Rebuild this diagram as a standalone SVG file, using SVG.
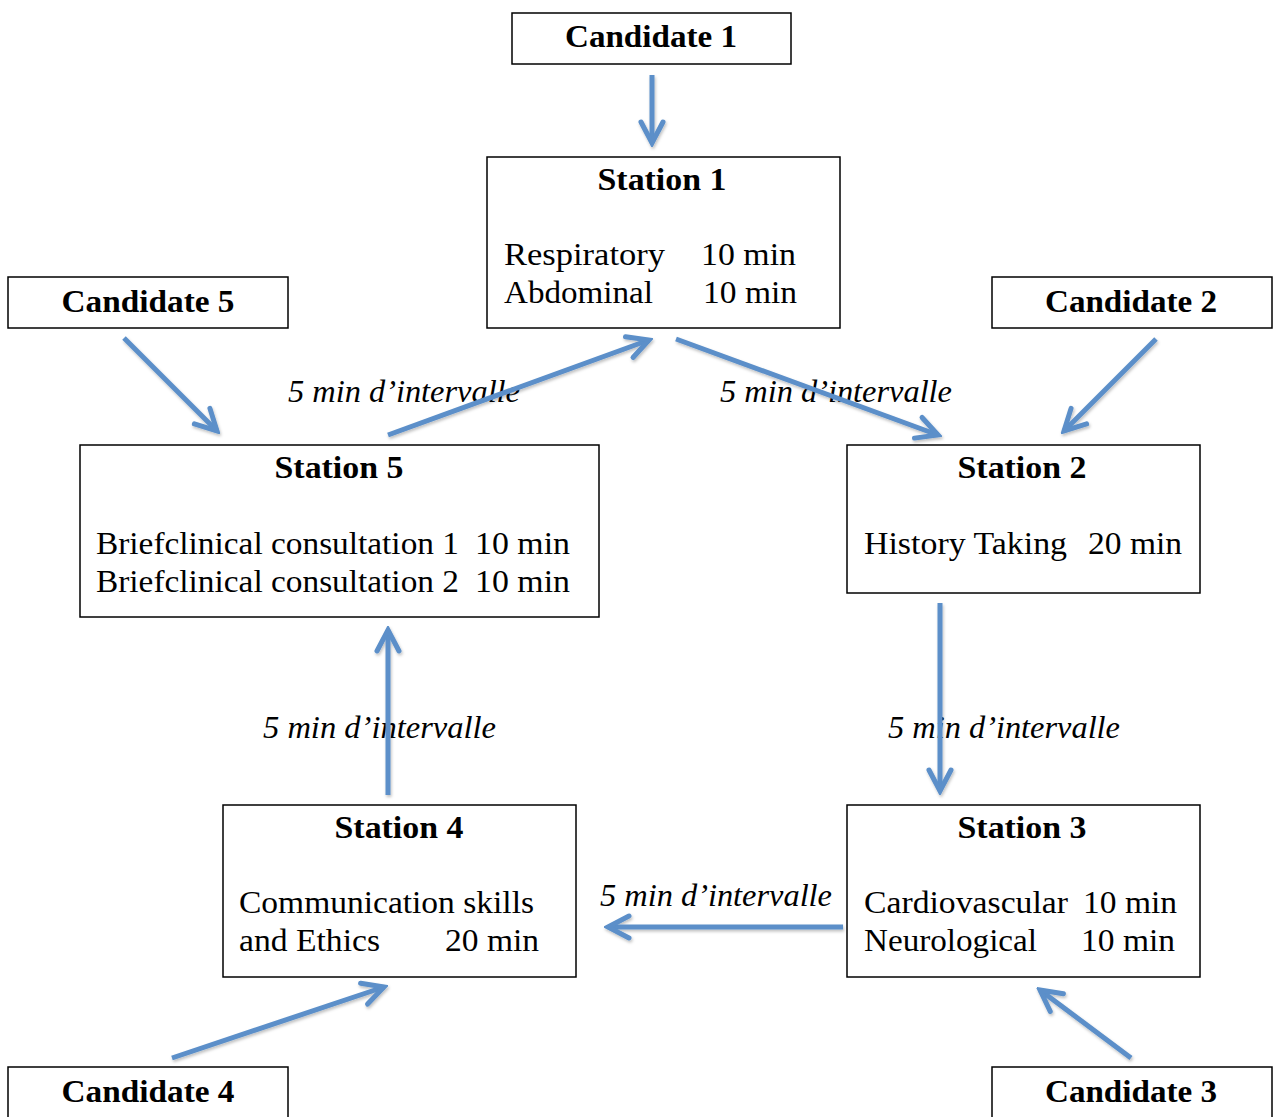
<svg xmlns="http://www.w3.org/2000/svg" width="1273" height="1117" viewBox="0 0 1273 1117">
<style>
.box{fill:#fff;stroke:#000;stroke-width:1.5}
.t{font-family:"Liberation Serif","DejaVu Serif",serif;font-size:31px;fill:#000}
.b{font-weight:bold}
.i{font-style:italic}
.c line{stroke:#5B8FC9;stroke-width:5;fill:none;marker-end:url(#ah)}
</style>
<defs>
<filter id="sh" x="-20%" y="-20%" width="140%" height="140%">
<feDropShadow dx="1" dy="2" stdDeviation="1.5" flood-color="#000" flood-opacity="0.25"/>
</filter>
<marker id="ah" markerUnits="userSpaceOnUse" viewBox="-30 -16 34 32" refX="0" refY="0" markerWidth="34" markerHeight="32" orient="auto">
<path d="M-21,-11 L0,0 L-21,11" fill="none" stroke="#5B8FC9" stroke-width="5" stroke-linejoin="miter" stroke-linecap="round"/>
</marker>
</defs>

<g id="candidate1"><rect class="box" x="512" y="13" width="279" height="51"/><text class="t b" x="651" y="47" text-anchor="middle" textLength="172" lengthAdjust="spacingAndGlyphs">Candidate 1</text></g>
<g id="candidate5"><rect class="box" x="8" y="277" width="280" height="51"/><text class="t b" x="148" y="312" text-anchor="middle" textLength="173" lengthAdjust="spacingAndGlyphs">Candidate 5</text></g>
<g id="candidate2"><rect class="box" x="992" y="277" width="280" height="51"/><text class="t b" x="1131" y="312" text-anchor="middle" textLength="172" lengthAdjust="spacingAndGlyphs">Candidate 2</text></g>
<g id="candidate4"><rect class="box" x="8" y="1067" width="280" height="60"/><text class="t b" x="148" y="1102" text-anchor="middle" textLength="173" lengthAdjust="spacingAndGlyphs">Candidate 4</text></g>
<g id="candidate3"><rect class="box" x="992" y="1067" width="280" height="60"/><text class="t b" x="1131" y="1102" text-anchor="middle" textLength="172" lengthAdjust="spacingAndGlyphs">Candidate 3</text></g>

<g id="station1"><rect class="box" x="487" y="157" width="353" height="171"/>
<text class="t b" x="662" y="190" text-anchor="middle" textLength="129" lengthAdjust="spacingAndGlyphs">Station 1</text>
<text class="t" x="504" y="265" textLength="161" lengthAdjust="spacingAndGlyphs">Respiratory</text>
<text class="t" x="701" y="265" textLength="95" lengthAdjust="spacingAndGlyphs">10 min</text>
<text class="t" x="504" y="303" textLength="149" lengthAdjust="spacingAndGlyphs">Abdominal</text>
<text class="t" x="703" y="303" textLength="94" lengthAdjust="spacingAndGlyphs">10 min</text>
</g>

<g id="station5"><rect class="box" x="80" y="445" width="519" height="172"/>
<text class="t b" x="339" y="478" text-anchor="middle" textLength="129" lengthAdjust="spacingAndGlyphs">Station 5</text>
<text class="t" x="96" y="554" textLength="363" lengthAdjust="spacingAndGlyphs">Briefclinical consultation 1</text>
<text class="t" x="475" y="554" textLength="95" lengthAdjust="spacingAndGlyphs">10 min</text>
<text class="t" x="96" y="592" textLength="363" lengthAdjust="spacingAndGlyphs">Briefclinical consultation 2</text>
<text class="t" x="475" y="592" textLength="95" lengthAdjust="spacingAndGlyphs">10 min</text>
</g>

<g id="station2"><rect class="box" x="847" y="445" width="353" height="148"/>
<text class="t b" x="1022" y="478" text-anchor="middle" textLength="129" lengthAdjust="spacingAndGlyphs">Station 2</text>
<text class="t" x="864" y="554" textLength="203" lengthAdjust="spacingAndGlyphs">History Taking</text>
<text class="t" x="1088" y="554" textLength="94" lengthAdjust="spacingAndGlyphs">20 min</text>
</g>

<g id="station4"><rect class="box" x="223" y="805" width="353" height="172"/>
<text class="t b" x="399" y="838" text-anchor="middle" textLength="129" lengthAdjust="spacingAndGlyphs">Station 4</text>
<text class="t" x="239" y="913" textLength="295" lengthAdjust="spacingAndGlyphs">Communication skills</text>
<text class="t" x="239" y="951" textLength="141" lengthAdjust="spacingAndGlyphs">and Ethics</text>
<text class="t" x="445" y="951" textLength="94" lengthAdjust="spacingAndGlyphs">20 min</text>
</g>

<g id="station3"><rect class="box" x="847" y="805" width="353" height="172"/>
<text class="t b" x="1022" y="838" text-anchor="middle" textLength="129" lengthAdjust="spacingAndGlyphs">Station 3</text>
<text class="t" x="864" y="913" textLength="204" lengthAdjust="spacingAndGlyphs">Cardiovascular</text>
<text class="t" x="1083" y="913" textLength="94" lengthAdjust="spacingAndGlyphs">10 min</text>
<text class="t" x="864" y="951" textLength="173" lengthAdjust="spacingAndGlyphs">Neurological</text>
<text class="t" x="1081" y="951" textLength="94" lengthAdjust="spacingAndGlyphs">10 min</text>
</g>

<g id="labels">
<text class="t i" x="288" y="402" textLength="232" lengthAdjust="spacingAndGlyphs">5 min d’intervalle</text>
<text class="t i" x="720" y="402" textLength="232" lengthAdjust="spacingAndGlyphs">5 min d’intervalle</text>
<text class="t i" x="263" y="738" textLength="233" lengthAdjust="spacingAndGlyphs">5 min d’intervalle</text>
<text class="t i" x="888" y="738" textLength="232" lengthAdjust="spacingAndGlyphs">5 min d’intervalle</text>
<text class="t i" x="600" y="906" textLength="232" lengthAdjust="spacingAndGlyphs">5 min d’intervalle</text>
</g>

<g id="connectors" class="c" filter="url(#sh)">
<line x1="652" y1="75" x2="652" y2="143"/>
<line x1="388" y1="435" x2="649" y2="340"/>
<line x1="676" y1="339" x2="938" y2="435"/>
<line x1="124" y1="338" x2="217" y2="431"/>
<line x1="1156" y1="339" x2="1064" y2="431"/>
<line x1="940" y1="603" x2="940" y2="791"/>
<line x1="388" y1="795" x2="388" y2="630"/>
<line x1="843" y1="927" x2="608" y2="927"/>
<line x1="172" y1="1058" x2="384" y2="987"/>
<line x1="1131" y1="1058" x2="1040" y2="990"/>
</g>
</svg>
